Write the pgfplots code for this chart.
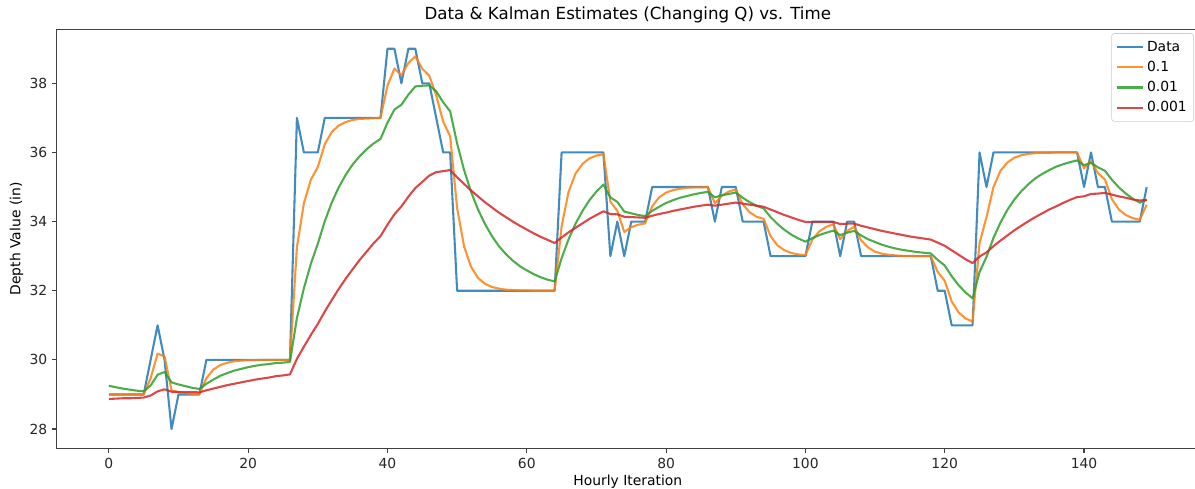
\documentclass[border=0pt]{standalone}
\usepackage{fontspec}
\setmainfont{DejaVu Sans}
\usepackage{pgfplots}
\usepackage{pgfplotstable}
\pgfplotsset{compat=1.18}
\definecolor{mplblue}{HTML}{1F77B4}
\definecolor{mplorange}{HTML}{FF7F0E}
\definecolor{mplgreen}{HTML}{2CA02C}
\definecolor{mplred}{HTML}{D62728}

% hourly depth data and the three Kalman estimates (Q = 0.1, 0.01, 0.001)
\pgfplotstableread{
x data q1 q01 q001
0 29 29.00 29.25 28.87
1 29 29.00 29.21 28.88
2 29 29.00 29.17 28.89
3 29 29.00 29.14 28.89
4 29 29.00 29.11 28.90
5 29 29.00 29.09 28.91
6 30 29.47 29.26 28.97
7 31 30.18 29.57 29.09
8 30 30.10 29.65 29.15
9 28 29.12 29.35 29.08
10 29 29.07 29.29 29.07
11 29 29.04 29.24 29.07
12 29 29.02 29.19 29.07
13 29 29.01 29.16 29.06
14 30 29.47 29.31 29.12
15 30 29.72 29.43 29.17
16 30 29.85 29.54 29.22
17 30 29.92 29.62 29.27
18 30 29.96 29.69 29.31
19 30 29.98 29.74 29.35
20 30 29.99 29.79 29.39
21 30 29.99 29.83 29.43
22 30 30.00 29.86 29.46
23 30 30.00 29.88 29.49
24 30 30.00 29.91 29.53
25 30 30.00 29.92 29.55
26 30 30.00 29.94 29.58
27 37 33.26 31.21 30.03
28 36 34.53 32.07 30.38
29 36 35.21 32.78 30.72
30 36 35.58 33.36 31.04
31 37 36.24 34.01 31.40
32 37 36.59 34.55 31.73
33 37 36.78 34.99 32.05
34 37 36.88 35.35 32.35
35 37 36.94 35.65 32.62
36 37 36.97 35.89 32.89
37 37 36.98 36.09 33.13
38 37 36.99 36.26 33.37
39 37 37.00 36.39 33.58
40 39 37.93 36.86 33.91
41 39 38.43 37.24 34.21
42 38 38.23 37.38 34.44
43 39 38.59 37.67 34.72
44 39 38.78 37.91 34.97
45 38 38.42 37.93 35.15
46 38 38.22 37.94 35.33
47 37 37.65 37.77 35.43
48 36 36.89 37.45 35.46
49 36 36.47 37.19 35.49
50 32 34.39 36.26 35.28
51 32 33.28 35.49 35.09
52 32 32.69 34.86 34.90
53 32 32.37 34.35 34.73
54 32 32.20 33.93 34.56
55 32 32.11 33.58 34.41
56 32 32.06 33.29 34.26
57 32 32.03 33.06 34.13
58 32 32.02 32.87 34.00
59 32 32.01 32.71 33.88
60 32 32.01 32.59 33.77
61 32 32.00 32.48 33.66
62 32 32.00 32.39 33.56
63 32 32.00 32.32 33.47
64 32 32.00 32.27 33.38
65 36 33.86 32.94 33.54
66 36 34.86 33.49 33.69
67 36 35.39 33.94 33.82
68 36 35.67 34.31 33.95
69 36 35.83 34.62 34.08
70 36 35.91 34.87 34.19
71 36 35.95 35.07 34.30
72 33 34.58 34.70 34.22
73 34 34.31 34.57 34.21
74 33 33.70 34.29 34.14
75 34 33.84 34.24 34.13
76 34 33.91 34.19 34.12
77 34 33.95 34.16 34.11
78 35 34.44 34.31 34.17
79 35 34.70 34.43 34.22
80 35 34.84 34.54 34.26
81 35 34.91 34.62 34.31
82 35 34.95 34.69 34.35
83 35 34.98 34.74 34.39
84 35 34.99 34.79 34.43
85 35 34.99 34.83 34.46
86 35 35.00 34.86 34.49
87 34 34.53 34.70 34.46
88 35 34.75 34.76 34.49
89 35 34.87 34.80 34.52
90 35 34.93 34.84 34.55
91 34 34.50 34.69 34.52
92 34 34.27 34.56 34.49
93 34 34.14 34.46 34.46
94 34 34.08 34.38 34.43
95 33 33.58 34.13 34.35
96 33 33.31 33.93 34.27
97 33 33.17 33.76 34.19
98 33 33.09 33.62 34.12
99 33 33.05 33.51 34.05
100 33 33.03 33.42 33.99
101 34 33.48 33.52 33.99
102 34 33.72 33.61 33.99
103 34 33.85 33.68 33.99
104 34 33.92 33.74 33.99
105 33 33.49 33.61 33.93
106 34 33.73 33.68 33.94
107 34 33.85 33.73 33.94
108 33 33.46 33.60 33.88
109 33 33.25 33.49 33.83
110 33 33.13 33.41 33.78
111 33 33.07 33.33 33.73
112 33 33.04 33.27 33.69
113 33 33.02 33.22 33.65
114 33 33.01 33.18 33.61
115 33 33.01 33.15 33.57
116 33 33.00 33.12 33.54
117 33 33.00 33.10 33.51
118 33 33.00 33.08 33.48
119 32 32.54 32.89 33.39
120 32 32.29 32.73 33.30
121 31 31.69 32.42 33.17
122 31 31.37 32.16 33.04
123 31 31.20 31.95 32.91
124 31 31.11 31.78 32.80
125 36 33.38 32.54 32.99
126 35 34.13 32.98 33.11
127 36 35.00 33.53 33.29
128 36 35.47 33.97 33.45
129 36 35.71 34.34 33.60
130 36 35.85 34.64 33.75
131 36 35.92 34.88 33.88
132 36 35.96 35.08 34.01
133 36 35.98 35.25 34.13
134 36 35.99 35.38 34.24
135 36 35.99 35.49 34.35
136 36 36.00 35.59 34.44
137 36 36.00 35.66 34.54
138 36 36.00 35.72 34.63
139 36 36.00 35.77 34.71
140 35 35.54 35.63 34.73
141 36 35.75 35.70 34.80
142 35 35.40 35.57 34.81
143 35 35.22 35.47 34.83
144 34 34.65 35.21 34.78
145 34 34.35 34.99 34.73
146 34 34.19 34.81 34.69
147 34 34.10 34.66 34.64
148 34 34.05 34.55 34.61
149 35 34.49 34.63 34.63
}\kalman

\begin{document}
\begin{tikzpicture}
\begin{axis}[
    at={(0,0)}, anchor=south west,
    scale only axis,
    width=822pt, height=301.2pt,
    xmin=-7.45, xmax=156.45,
    ymin=27.45, ymax=39.55,
    xtick={0,20,...,140},
    ytick={28,30,...,38},
    tick align=outside,
    xtick pos=left, ytick pos=left,
    major tick length=3.5pt,
    every tick/.style={black!75, line width=0.8pt},
    axis line style={black!75, line width=0.8pt},
    ticklabel style={font=\fontsize{10}{12}\selectfont, text=black!85},
    /pgf/number format/assume math mode=true,
    title={Data \& Kalman Estimates (Changing Q) vs. Time},
    title style={font=\fontsize{12}{14}\selectfont, at={(axis description cs:0.5,1)}, anchor=base, yshift=1.3pt},
    xlabel={Hourly Iteration},
    xlabel style={font=\fontsize{10}{12}\selectfont, at={(axis description cs:0.5,0)}, anchor=center, yshift=-24pt},
    ylabel={Depth Value (in)},
    ylabel style={font=\fontsize{10}{12}\selectfont, at={(axis description cs:0,0.5)}, anchor=center, yshift=29pt},
    legend cell align=left,
    legend image code/.code={\draw[#1] (0pt,0pt) -- (19pt,0pt);},
    legend style={at={(axis description cs:1,1)}, anchor=north east,
        xshift=-3.3pt, yshift=-2.5pt,
        draw=black!20, rounded corners=2pt, fill=white,
        font=\fontsize{10}{12}\selectfont, row sep=1.6pt,
        inner xsep=3pt, inner ysep=3.5pt},
    every axis plot/.append style={line width=1.5pt, opacity=0.85, line join=round},
]
\addplot[mplblue] table[x=x, y=data] {\kalman};
\addlegendentry{Data}
\addplot[mplorange] table[x=x, y=q1] {\kalman};
\addlegendentry{0.1}
\addplot[mplgreen] table[x=x, y=q01] {\kalman};
\addlegendentry{0.01}
\addplot[mplred] table[x=x, y=q001] {\kalman};
\addlegendentry{0.001}
\end{axis}
\pgfresetboundingbox
\useasboundingbox (-41pt,-28.8pt) rectangle (819.4pt,322.6pt);
\end{tikzpicture}
\end{document}
